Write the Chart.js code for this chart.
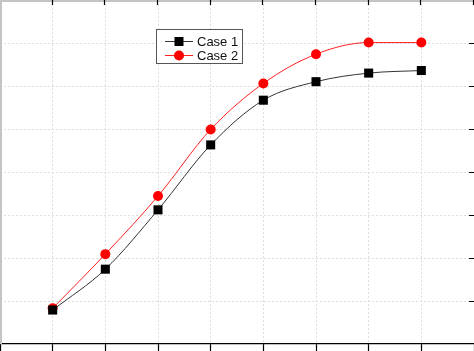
<!DOCTYPE html>
<html>
<head>
<meta charset="utf-8">
<script src="https://cdn.jsdelivr.net/npm/chart.js@4/dist/chart.umd.min.js"></script>
<style>
  html, body { margin: 0; padding: 0; background: #fff; }
  #contenedor { width: 474px; height: 351px; }
</style>
</head>
<body>
<div id="contenedor"><canvas id="grafico"></canvas></div>
<script>
// Datos
const posiciones = [1, 2, 3, 4, 5, 6, 7, 8];
const valoresCaso1 = [0.79, 1.74, 3.12, 4.63, 5.67, 6.10, 6.30, 6.36];
const valoresCaso2 = [0.83, 2.09, 3.44, 4.99, 6.06, 6.74, 7.01, 7.01];
const nombresSeries = ['Case 1', 'Case 2'];

/**
 * Convierte los arrays en puntos {x, y}
 */
function armarPuntos(valores) {
  return posiciones.map((p, i) => ({ x: p, y: valores[i] }));
}

// Marco, marcas interiores y leyenda al estilo Origin
const pluginMarco = {
  id: 'marco',
  afterDraw(chart) {
    const ctx = chart.ctx;
    const area = chart.chartArea;
    const ejeX = chart.scales.x;
    const ejeY = chart.scales.y;
    ctx.save();

    // bordes grises (izquierdo y superior)
    ctx.fillStyle = '#c4c4c4';
    ctx.fillRect(0, 0, 2, area.bottom);
    ctx.fillRect(0, 0, chart.width, 2);

    // marcas arriba (hacia dentro) y a la derecha (hacia dentro)
    ctx.strokeStyle = '#000';
    ctx.lineWidth = 1.2;
    ctx.beginPath();
    for (let v = 1; v <= 9; v++) {
      const px = Math.round(ejeX.getPixelForValue(v)) - 0.5;
      ctx.moveTo(px, 0);
      ctx.lineTo(px, 5);
    }
    for (let v = 1; v <= 7; v++) {
      const py = Math.round(ejeY.getPixelForValue(v)) + 0.5;
      ctx.moveTo(area.right, py);
      ctx.lineTo(area.right - 5, py);
    }
    ctx.stroke();

    // leyenda
    const caja = { x: 156.5, y: 29.5, w: 86, h: 34 };
    ctx.fillStyle = '#fff';
    ctx.fillRect(caja.x, caja.y, caja.w, caja.h);
    ctx.strokeStyle = '#555';
    ctx.lineWidth = 1;
    ctx.strokeRect(caja.x, caja.y, caja.w, caja.h);
    const filas = [41.5, 55.5];
    chart.data.datasets.forEach((ds, i) => {
      const y = filas[i];
      ctx.strokeStyle = ds.borderColor;
      ctx.lineWidth = 1;
      ctx.beginPath();
      ctx.moveTo(165, y);
      ctx.lineTo(193, y);
      ctx.stroke();
      ctx.fillStyle = ds.pointBackgroundColor;
      ctx.beginPath();
      if (ds.pointStyle === 'rect') {
        ctx.rect(174.5, y - 4.5, 9, 9);
      } else {
        ctx.arc(179, y, 5, 0, Math.PI * 2);
      }
      ctx.fill();
      ctx.fillStyle = '#111';
      ctx.font = '13px "Liberation Sans", Arial, sans-serif';
      ctx.textBaseline = 'middle';
      ctx.fillText(ds.label, 197, y + 0.5);
    });
    ctx.restore();
  }
};

/**
 * Color de rejilla: sin línea en los bordes
 */
function colorRejilla(maximo) {
  return ctx => (ctx.tick && (ctx.tick.value === 0 || ctx.tick.value === maximo)) ? 'rgba(0,0,0,0)' : '#dedede';
}

function inicializarGrafico() {
  const lienzo = document.getElementById('grafico');
  new Chart(lienzo, {
    type: 'line',
    data: {
      datasets: [
        {
          label: nombresSeries[0],
          data: armarPuntos(valoresCaso1),
          borderColor: '#333',
          borderWidth: 1,
          pointStyle: 'rect',
          pointRadius: 6.4,
          pointBackgroundColor: '#000',
          pointBorderWidth: 0,
          cubicInterpolationMode: 'monotone'
        },
        {
          label: nombresSeries[1],
          data: armarPuntos(valoresCaso2),
          borderColor: '#ff2020',
          borderWidth: 1,
          pointStyle: 'circle',
          pointRadius: 5,
          pointBackgroundColor: '#ff0000',
          pointBorderWidth: 0,
          cubicInterpolationMode: 'monotone'
        }
      ]
    },
    options: {
      responsive: true,
      maintainAspectRatio: false,
      animation: false,
      layout: { padding: 0, autoPadding: false },
      plugins: {
        legend: { display: false },
        tooltip: { enabled: false }
      },
      scales: {
        x: {
          type: 'linear',
          min: 0,
          max: 9,
          ticks: { display: false, stepSize: 1 },
          grid: {
            color: colorRejilla(9),
            drawTicks: true,
            tickLength: 7,
            tickColor: '#000',
            tickWidth: 1.2,
            tickBorderDash: []
          },
          border: { display: true, color: '#000', width: 1.2, dash: [2, 2] }
        },
        y: {
          min: 0,
          max: 8,
          ticks: { display: false, stepSize: 1 },
          grid: {
            color: colorRejilla(8),
            drawTicks: false
          },
          border: { display: false, dash: [2, 2] }
        }
      }
    },
    plugins: [pluginMarco]
  });
}

inicializarGrafico();
</script>
</body>
</html>
